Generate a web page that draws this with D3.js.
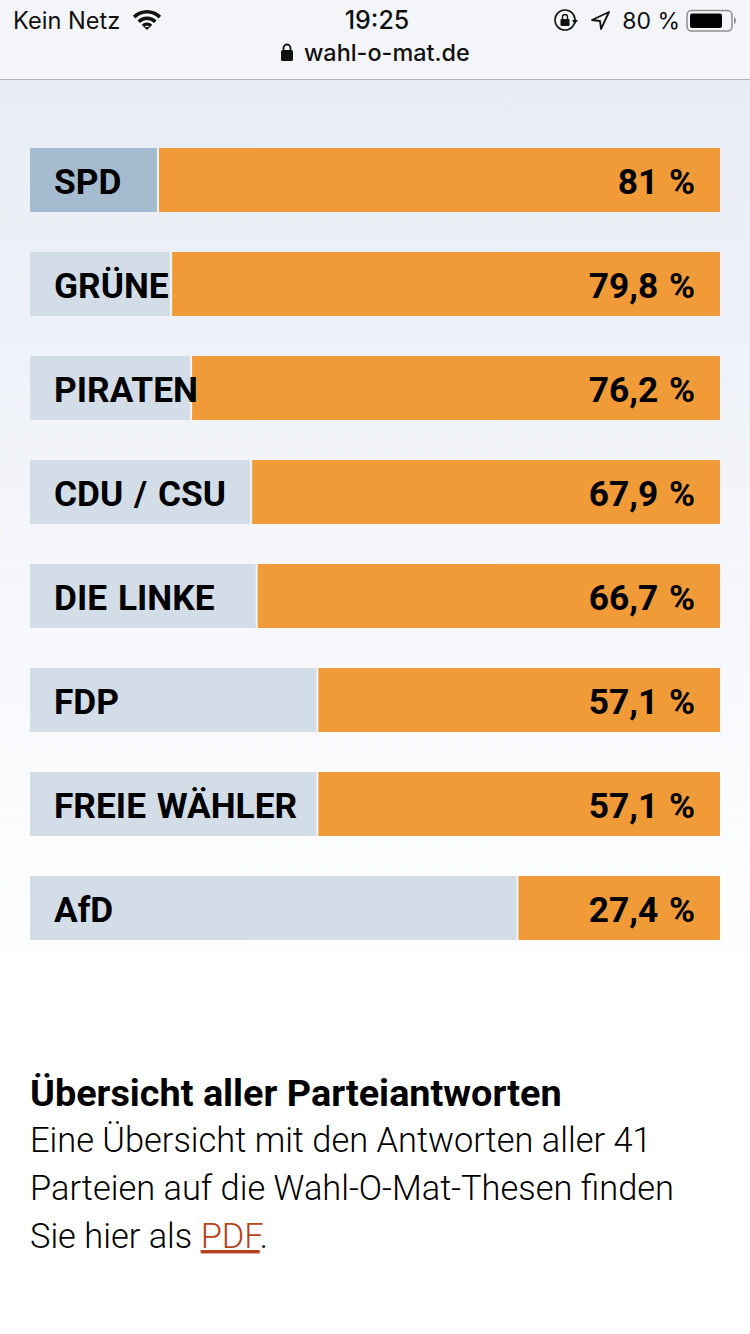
<!DOCTYPE html>
<html lang="de">
<head>
<meta charset="utf-8">
<title>Wahl-O-Mat</title>
<script src="https://cdn.jsdelivr.net/npm/d3@7"></script>
<style>
html, body { margin: 0; padding: 0; background: #fff; }
svg { display: block; }
text { font-family: Roboto, sans-serif; fill: #000; }
.status { font-family: Inter, Roboto, sans-serif; fill: #111; }
</style>
</head>
<body>
<svg id="chart" width="750" height="1334"></svg>
<script>
var parties = ['SPD', 'GRÜNE', 'PIRATEN', 'CDU / CSU', 'DIE LINKE', 'FDP', 'FREIE WÄHLER', 'AfD'];
var valueLabels = ['81 %', '79,8 %', '76,2 %', '67,9 %', '66,7 %', '57,1 %', '57,1 %', '27,4 %'];
// Orange share of the bar as drawn in the picture, it differs a bit from the printed label.
var barShares = [81.3, 79.4, 76.5, 67.8, 67.0, 58.2, 58.2, 29.2];
var highlighted = ['SPD'];
var textLines = ['Eine Übersicht mit den Antworten aller 41', 'Parteien auf die Wahl-O-Mat-Thesen finden'];

var svg = d3.select('#chart');
var width = 750, height = 1334;

var x = d3.scaleLinear().domain([100, 0]).range([30, 720]);
var y = d3.scaleBand().domain(parties).range([148, 940]).paddingInner(40 / 104).paddingOuter(0);

// Page background
var defs = svg.append('defs');
var grad = defs.append('linearGradient').attr('id', 'pageBg')
    .attr('x1', 0).attr('y1', 0).attr('x2', 0).attr('y2', 1);
grad.append('stop').attr('offset', 0).attr('stop-color', '#e8ecf5');
grad.append('stop').attr('offset', 1).attr('stop-color', '#ffffff');

svg.append('rect').attr('width', width).attr('height', height).attr('fill', '#fff');
svg.append('rect').attr('y', 80).attr('width', width).attr('height', 900).attr('fill', 'url(#pageBg)');

// Browser status bar
svg.append('rect').attr('width', width).attr('height', 79).attr('fill', '#f4f5f8');
svg.append('rect').attr('y', 79).attr('width', width).attr('height', 1).attr('fill', '#b4b5b8');

svg.append('text').attr('class', 'status').attr('x', 13).attr('y', 29).style('font-size', '23.6px').text('Kein Netz');
svg.append('text').attr('class', 'status').attr('x', 377).attr('y', 29).attr('text-anchor', 'middle')
    .style('font-weight', 500).style('font-size', '25px').text('19:25');
svg.append('text').attr('class', 'status').attr('x', 304).attr('y', 61)
    .style('font-weight', 500).style('font-size', '23.4px').text('wahl-o-mat.de');
svg.append('text').attr('class', 'status').attr('x', 680).attr('y', 29).attr('text-anchor', 'end')
    .style('font-size', '23px').text('80 %');

// wifi
var wifi = svg.append('g').attr('transform', 'translate(147,30)');
[20, 13.5, 7.5].forEach(function(r) {
    wifi.append('path')
        .attr('d', d3.arc()({innerRadius: r - 3.6, outerRadius: r, startAngle: -Math.PI / 4, endAngle: Math.PI / 4}))
        .attr('fill', '#111');
});
wifi.append('path').attr('d', 'M-3,-3 L0,0 L3,-3 Z').attr('fill', '#111');

// lock in the address bar
svg.append('rect').attr('x', 281).attr('y', 50).attr('width', 12).attr('height', 11).attr('rx', 1.5).attr('fill', '#111');
svg.append('path').attr('d', 'M283.5,50 V48 a3.5,3.5 0 0 1 7,0 V50').attr('fill', 'none').attr('stroke', '#111').attr('stroke-width', 1.8);

// rotation lock
svg.append('circle').attr('cx', 565).attr('cy', 20).attr('r', 10).attr('fill', 'none').attr('stroke', '#111').attr('stroke-width', 1.6);
svg.append('rect').attr('x', 560.5).attr('y', 19).attr('width', 9).attr('height', 7).attr('rx', 1).attr('fill', '#111');
svg.append('path').attr('d', 'M562.5,19 V17 a2.5,2.5 0 0 1 5,0 V19').attr('fill', 'none').attr('stroke', '#111').attr('stroke-width', 1.4);
svg.append('path').attr('d', 'M572,20 L578,20 L575,24 Z').attr('fill', '#111');

// location arrow
svg.append('path').attr('d', 'M609,12 L592,20 L600,21 L601,29 Z').attr('fill', 'none').attr('stroke', '#111').attr('stroke-width', 1.8).attr('stroke-linejoin', 'round');

// battery
svg.append('rect').attr('x', 687).attr('y', 10.5).attr('width', 45).attr('height', 20.5).attr('rx', 4.5).attr('fill', 'none').attr('stroke', '#8f8f91').attr('stroke-width', 1.5);
svg.append('rect').attr('x', 690).attr('y', 13.5).attr('width', 32).attr('height', 14.5).attr('rx', 2).attr('fill', '#000');
svg.append('path').attr('d', 'M734,17 a4,4 0 0 1 0,7 Z').attr('fill', '#8f8f91');

// Bars
var rows = svg.append('g').selectAll('g')
    .data(parties)
    .enter()
    .append('g')
        .attr('transform', function(d) { return 'translate(0,' + y(d) + ')'; });

rows.append('rect')
    .attr('x', x(100))
    .attr('width', x(0) - x(100))
    .attr('height', y.bandwidth())
    .attr('fill', function(d) { return highlighted.indexOf(d) >= 0 ? '#a5bbcf' : '#d3dde8'; });

rows.append('rect')
    .attr('x', function(d, i) { return x(barShares[i]) - 2; })
    .attr('width', 2)
    .attr('height', y.bandwidth())
    .attr('fill', '#f2f5f9');

rows.append('rect')
    .attr('x', function(d, i) { return x(barShares[i]); })
    .attr('width', function(d, i) { return x(0) - x(barShares[i]); })
    .attr('height', y.bandwidth())
    .attr('fill', '#f19b38');

// Names go after the orange because PIRATEN runs over it.
rows.append('text')
    .attr('x', 54)
    .attr('y', 46)
    .style('font-size', '35.3px')
    .style('font-weight', 700)
    .style('word-spacing', '2px')
    .text(function(d) { return d; });

rows.append('text')
    .attr('x', 695)
    .attr('y', 46)
    .attr('text-anchor', 'end')
    .style('font-size', '35.3px')
    .style('font-weight', 700)
    .style('word-spacing', '2px')
    .text(function(d, i) { return valueLabels[i]; });

// Text below the chart
svg.append('text').attr('x', 30).attr('y', 1106)
    .style('font-size', '37.8px').style('font-weight', 700)
    .text('Übersicht aller Parteiantworten');

svg.selectAll('.line').data(textLines).enter().append('text')
    .attr('class', 'line')
    .attr('x', 30)
    .attr('y', function(d, i) { return 1152 + i * 48; })
    .style('font-size', '34.4px').style('font-weight', 300)
    .text(function(d) { return d; });

var last = svg.append('text').attr('x', 30).attr('y', 1248).style('font-size', '34.4px').style('font-weight', 300);
last.append('tspan').text('Sie hier als ');
last.append('tspan').style('fill', '#b3441c').style('text-decoration', 'underline').text('PDF');
last.append('tspan').text('.');
</script>
</body>
</html>
